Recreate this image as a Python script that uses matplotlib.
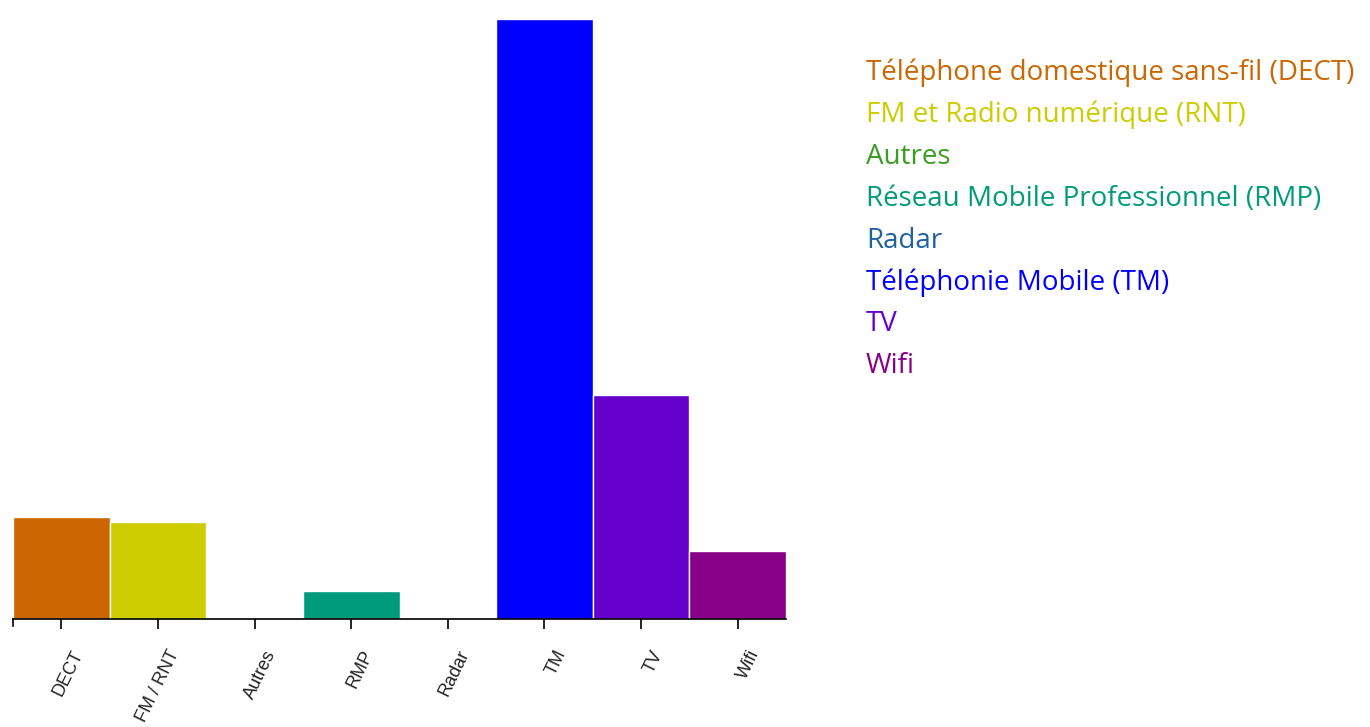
import matplotlib
matplotlib.use("Agg")
import matplotlib.pyplot as plt
import matplotlib.transforms as mtransforms

# ---------------------------------------------------------------------------
# Data
# ---------------------------------------------------------------------------
CODES = ["DECT", "FM / RNT", "Autres", "RMP", "Radar", "TM", "TV", "Wifi"]
VALUES = [102, 97, 0, 28, 0, 600, 224, 68]
LEGEND_LABELS = [
    "Téléphone domestique sans-fil (DECT)",
    "FM et Radio numérique (RNT)",
    "Autres",
    "Réseau Mobile Professionnel (RMP)",
    "Radar",
    "Téléphonie Mobile (TM)",
    "TV",
    "Wifi",
]
COLORS = ["#cc6600", "#cccc00", "#3a9e22", "#009b7d",
          "#1f62a3", "#0000ff", "#6600cc", "#880088"]

# ---------------------------------------------------------------------------
# Figure
# ---------------------------------------------------------------------------
W, H = 1370, 727
fig = plt.figure(figsize=(W / 100, H / 100), dpi=100)
fig.patch.set_facecolor("white")

ax_left, ax_right = 13, 786
ax_top, ax_bottom = 19, 619
ax = fig.add_axes([ax_left / W, 1 - ax_bottom / H,
                   (ax_right - ax_left) / W, (ax_bottom - ax_top) / H])

x = range(len(CODES))
ax.bar(x, VALUES, width=1.0, color=COLORS, edgecolor="white",
       linewidth=1.0, zorder=2)

ax.set_xlim(-0.5, len(CODES) - 0.5)
ax.set_ylim(0, max(VALUES))

for side in ["top", "right", "left"]:
    ax.spines[side].set_visible(False)
ax.spines["bottom"].set_color("#000000")
ax.spines["bottom"].set_linewidth(1.2)
ax.set_yticks([])

ax.set_xticks(list(x))
ax.set_xticklabels(CODES, rotation=64, ha="right", va="top",
                   rotation_mode="anchor", fontsize=13,
                   family="Liberation Sans", color="#222222")
ax.tick_params(axis="x", length=7, width=1.2, color="#000000", pad=4)
offset = mtransforms.ScaledTranslation(10 / 100, -13 / 100, fig.dpi_scale_trans)
for lbl in ax.get_xticklabels():
    lbl.set_transform(lbl.get_transform() + offset)

# outer tick at the left end of the axis
ax.plot([-0.5, -0.5], [0, -7 / (ax_bottom - ax_top) * max(VALUES)],
        color="#000000", lw=1.2, clip_on=False, zorder=3)

# ---------------------------------------------------------------------------
# Legend as coloured text
# ---------------------------------------------------------------------------
for i, (label, color) in enumerate(zip(LEGEND_LABELS, COLORS)):
    y_px = 73 + i * 41.9
    fig.text(866 / W, 1 - y_px / H, label, color=color,
             fontsize=20, family="Open Sans", ha="left", va="center")

fig.savefig("out.png", dpi=100, facecolor="white")
